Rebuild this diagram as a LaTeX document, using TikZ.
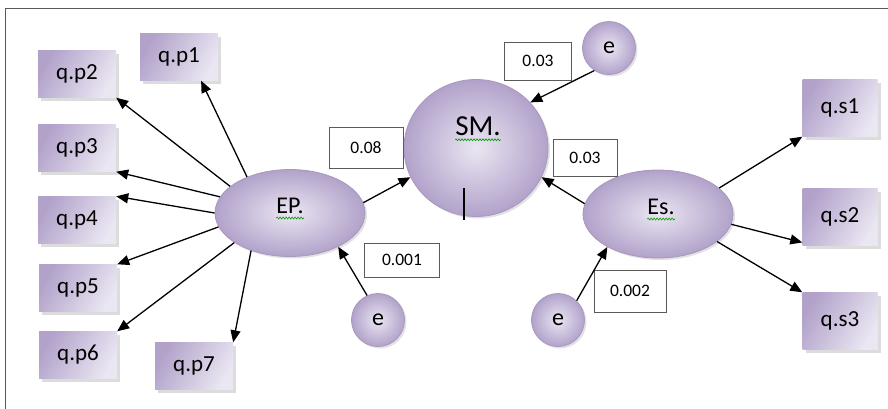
\documentclass[tikz,border=0pt]{standalone}
\usepackage{fontspec}
\setmainfont{Carlito}
\usetikzlibrary{arrows.meta,shapes.geometric,shadows,decorations.pathmorphing}
\definecolor{lav}{HTML}{B2A2CA}
\definecolor{lavlight}{HTML}{EAE6F2}
\definecolor{lavedge}{HTML}{A898C0}
\definecolor{frame}{HTML}{5A5A5A}

\begin{document}
\begin{tikzpicture}[x=1pt,y=-1pt,
  item/.style={rectangle,minimum width=78pt,minimum height=47pt,inner sep=0pt,
    left color=lav,right color=lavlight,shading angle=60,
    drop shadow={shadow xshift=3pt,shadow yshift=-3pt,fill=gray!55},
    font=\fontsize{23}{27}\selectfont},
  latent/.style={ellipse,inner sep=0pt,draw=lavedge,line width=0.8pt,
    inner color=lavlight,outer color=lav,
    drop shadow={shadow xshift=2pt,shadow yshift=-2pt,fill=gray!45}},
  err/.style={circle,minimum size=53pt,inner sep=0pt,draw=lavedge,line width=0.8pt,
    inner color=lavlight,outer color=lav,
    drop shadow={shadow xshift=2pt,shadow yshift=-2pt,fill=gray!45},
    font=\fontsize{24}{28}\selectfont},
  val/.style={rectangle,draw=frame,line width=1pt,fill=white,inner sep=0pt,
    font=\fontsize{17.5}{20}\selectfont},
  arr/.style={-{Triangle[length=12pt,width=10pt]},line width=1.3pt},
  squiggle/.style={draw=green!60!black,line width=0.6pt,
    decorate,decoration={snake,amplitude=1pt,segment length=3pt}}]
\useasboundingbox (0,0) rectangle (888,408);
\draw[frame,line width=1pt] (5,410) -- (5,8) -- (890,8);

\node[item] (qp1) at (179,57) {q.p1};
\node[item] (qp2) at (77,74) {q.p2};
\node[item] (qp3) at (77,148) {q.p3};
\node[item] (qp4) at (77,220) {q.p4};
\node[item] (qp5) at (78,288) {q.p5};
\node[item] (qp6) at (78,355) {q.p6};
\node[item] (qp7) at (194,366) {q.p7};
\node[item,minimum width=75pt,minimum height=57pt] (qs1) at (840,108) {q.s1};
\node[item,minimum width=75pt,minimum height=57pt] (qs2) at (840,217) {q.s2};
\node[item,minimum width=75pt,minimum height=57pt] (qs3) at (840,321) {q.s3};

\node[latent,minimum width=150pt,minimum height=87pt] (ep) at (290,213) {};
\node[latent,minimum width=144pt,minimum height=137pt] (sm) at (476,148) {};
\node[latent,minimum width=150pt,minimum height=88pt] (es) at (658,214) {};
\node[inner sep=0pt,font=\fontsize{24}{28}\selectfont] (eptxt) at (290,206) {EP.};
\node[inner sep=0pt,font=\fontsize{29}{34}\selectfont] (smtxt) at (478,126) {SM.};
\node[inner sep=0pt,font=\fontsize{24}{28}\selectfont] (estxt) at (661,207) {Es.};
\draw[squiggle] ([yshift=-4pt]eptxt.south west) -- ([yshift=-4pt]eptxt.south east);
\draw[squiggle] ([yshift=-4pt]smtxt.south west) -- ([yshift=-4pt]smtxt.south east);
\draw[squiggle] ([yshift=-4pt]estxt.south west) -- ([yshift=-4pt]estxt.south east);
\draw[line width=1.2pt] (464,188) -- (464,220);

\node[err] (e1) at (609,48) {e};
\node[err] (e2) at (378,320) {e};
\node[err] (e3) at (558,320) {e};

\node[val,minimum width=67pt,minimum height=38pt] (v1) at (538,61) {0.03};
\node[val,minimum width=74pt,minimum height=41pt] (v2) at (366,148) {0.08};
\node[val,minimum width=64pt,minimum height=37pt] (v3) at (585,158) {0.03};
\node[val,minimum width=75pt,minimum height=34pt] (v4) at (402,260) {0.001};
\node[val,minimum width=72pt,minimum height=42pt] (v5) at (630,291) {0.002};

\draw[arr] (ep.140) -- (qp1.-47);
\draw[arr] (ep.156) -- (qp2.south east);
\draw[arr] (ep.167) -- (qp3.south east);
\draw[arr] (ep.180) -- (qp4.north east);
\draw[arr] (ep.191) -- (qp5.north east);
\draw[arr] (ep.208) -- (qp6.north east);
\draw[arr] (ep.224) -- (qp7.north east);
\draw[arr] (ep.8) -- (sm.204);
\draw[arr] (e2.114) -- (ep.-35);
\draw[arr] (e1.237) -- (sm.40);
\draw[arr] (es.172) -- (sm.-24);
\draw[arr] (e3.46) -- (es.213);
\draw[arr] (es.23) -- (qs1.south west);
\draw[arr] (es.-8) -- (qs2.214);
\draw[arr] (es.-25) -- (qs3.north west);
\end{tikzpicture}
\end{document}
